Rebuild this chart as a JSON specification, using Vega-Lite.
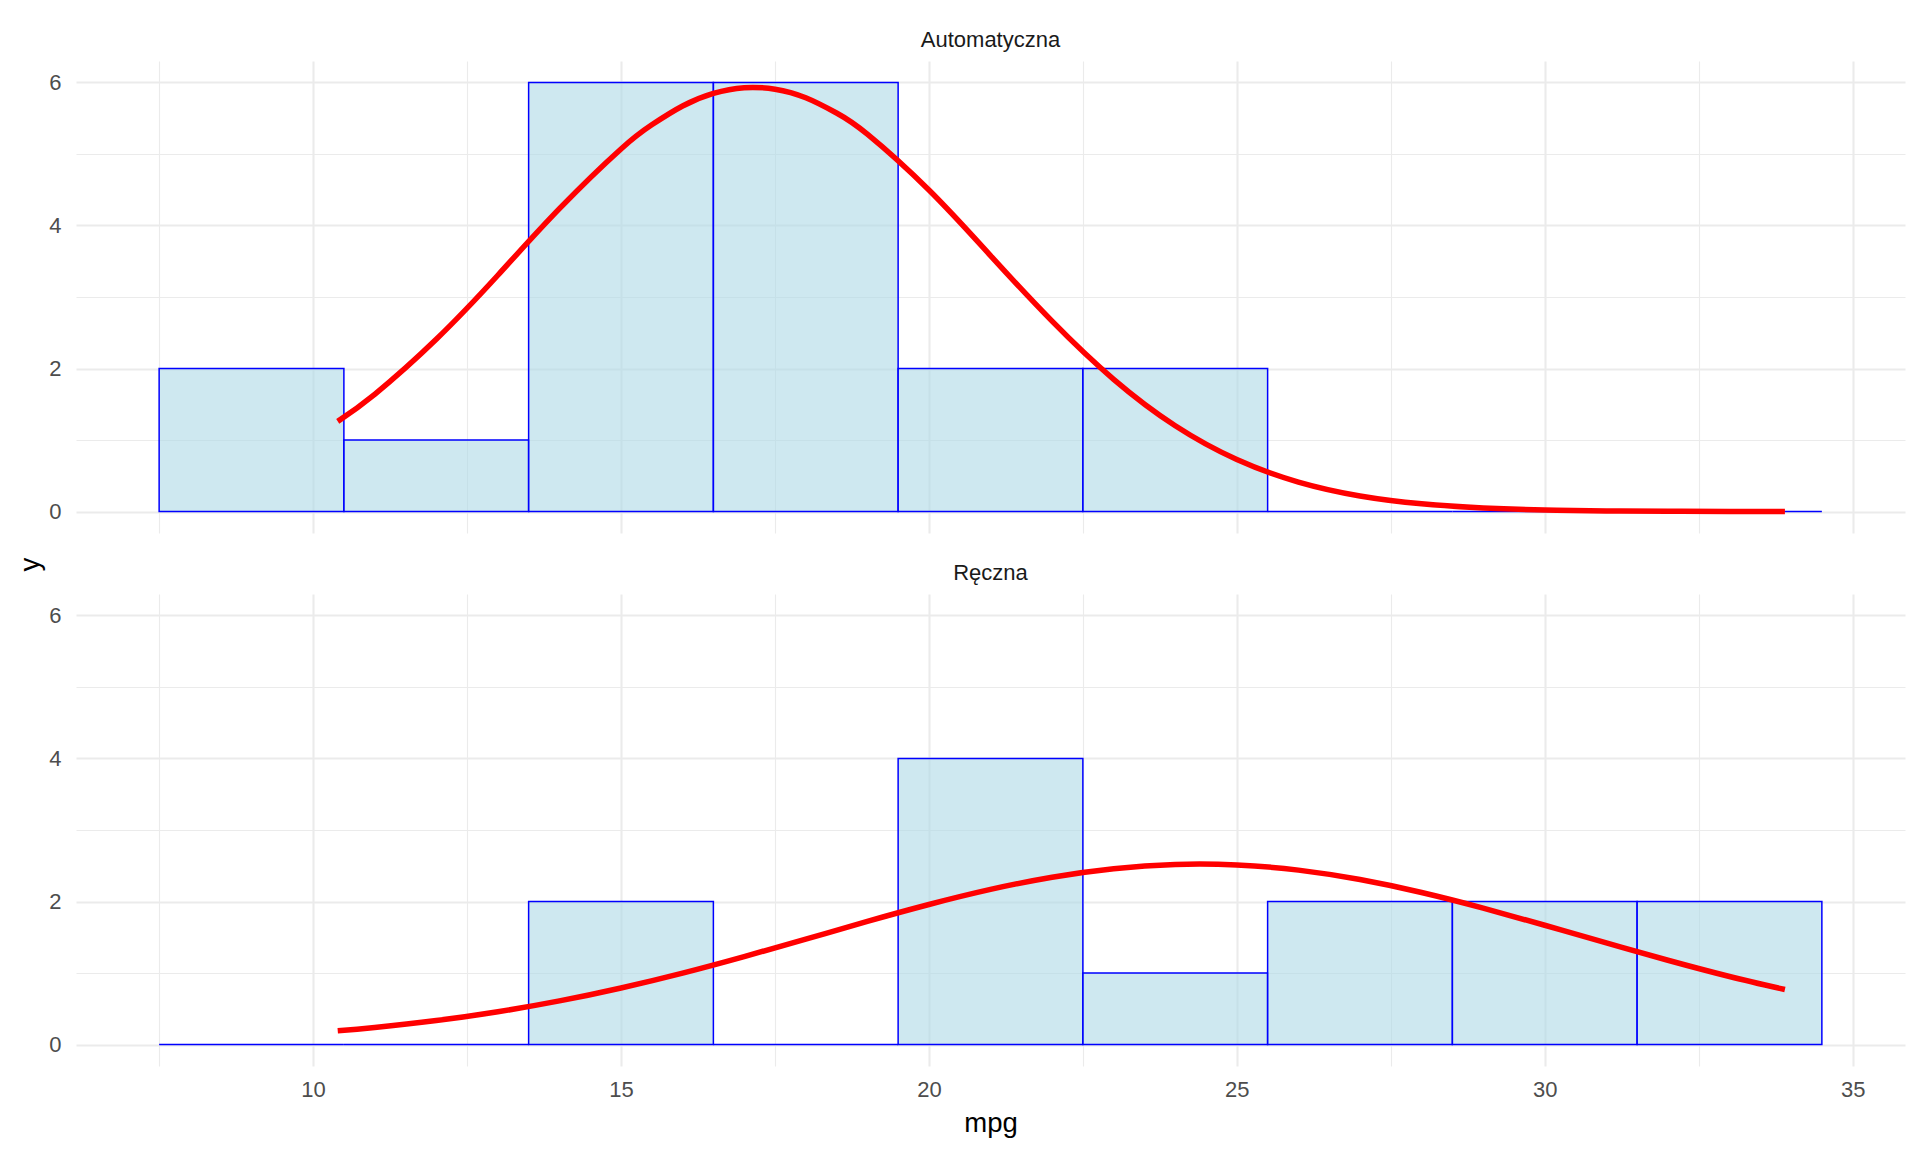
{
  "$schema": "https://vega.github.io/schema/vega-lite/v6.json",
  "background": "white",
  "padding": {"left": 16, "top": 29, "right": 10, "bottom": 10},
  "bounds": "flush",
  "spacing": 61,
  "config": {
    "font": "Liberation Sans",
    "view": {"stroke": null},
    "axis": {
      "domain": false,
      "ticks": false,
      "labelFont": "Liberation Sans",
      "labelFontSize": 22,
      "labelColor": "#4D4D4D",
      "titleFont": "Liberation Sans",
      "titleFontSize": 27.5,
      "titleFontWeight": "normal",
      "titleColor": "#000000",
      "gridColor": "#EBEBEB"
    }
  },
  "datasets": {
    "hist": [
      {"panel": "Automatyczna", "start": 7.5, "end": 10.5, "count": 2},
      {"panel": "Automatyczna", "start": 10.5, "end": 13.5, "count": 1},
      {"panel": "Automatyczna", "start": 13.5, "end": 16.5, "count": 6},
      {"panel": "Automatyczna", "start": 16.5, "end": 19.5, "count": 6},
      {"panel": "Automatyczna", "start": 19.5, "end": 22.5, "count": 2},
      {"panel": "Automatyczna", "start": 22.5, "end": 25.5, "count": 2},
      {"panel": "Automatyczna", "start": 25.5, "end": 28.5, "count": 0},
      {"panel": "Automatyczna", "start": 28.5, "end": 31.5, "count": 0},
      {"panel": "Automatyczna", "start": 31.5, "end": 34.5, "count": 0},
      {"panel": "Ręczna", "start": 7.5, "end": 10.5, "count": 0},
      {"panel": "Ręczna", "start": 10.5, "end": 13.5, "count": 0},
      {"panel": "Ręczna", "start": 13.5, "end": 16.5, "count": 2},
      {"panel": "Ręczna", "start": 16.5, "end": 19.5, "count": 0},
      {"panel": "Ręczna", "start": 19.5, "end": 22.5, "count": 4},
      {"panel": "Ręczna", "start": 22.5, "end": 25.5, "count": 1},
      {"panel": "Ręczna", "start": 25.5, "end": 28.5, "count": 2},
      {"panel": "Ręczna", "start": 28.5, "end": 31.5, "count": 2},
      {"panel": "Ręczna", "start": 31.5, "end": 34.5, "count": 2}
    ],
    "curve": [
      {"panel": "Automatyczna", "x": 10.4, "y": 1.261},
      {"panel": "Automatyczna", "x": 11, "y": 1.640},
      {"panel": "Automatyczna", "x": 12, "y": 2.409},
      {"panel": "Automatyczna", "x": 13, "y": 3.304},
      {"panel": "Automatyczna", "x": 14, "y": 4.235},
      {"panel": "Automatyczna", "x": 15, "y": 5.070},
      {"panel": "Automatyczna", "x": 15.5, "y": 5.408},
      {"panel": "Automatyczna", "x": 16, "y": 5.671},
      {"panel": "Automatyczna", "x": 16.5, "y": 5.847},
      {"panel": "Automatyczna", "x": 17, "y": 5.927},
      {"panel": "Automatyczna", "x": 17.5, "y": 5.906},
      {"panel": "Automatyczna", "x": 18, "y": 5.786},
      {"panel": "Automatyczna", "x": 18.5, "y": 5.573},
      {"panel": "Automatyczna", "x": 19, "y": 5.277},
      {"panel": "Automatyczna", "x": 20, "y": 4.496},
      {"panel": "Automatyczna", "x": 21, "y": 3.579},
      {"panel": "Automatyczna", "x": 22, "y": 2.662},
      {"panel": "Automatyczna", "x": 23, "y": 1.849},
      {"panel": "Automatyczna", "x": 24, "y": 1.200},
      {"panel": "Automatyczna", "x": 25, "y": 0.728},
      {"panel": "Automatyczna", "x": 26, "y": 0.412},
      {"panel": "Automatyczna", "x": 27, "y": 0.218},
      {"panel": "Automatyczna", "x": 28, "y": 0.108},
      {"panel": "Automatyczna", "x": 29, "y": 0.050},
      {"panel": "Automatyczna", "x": 30, "y": 0.0215},
      {"panel": "Automatyczna", "x": 31, "y": 0.0087},
      {"panel": "Automatyczna", "x": 32, "y": 0.0033},
      {"panel": "Automatyczna", "x": 33, "y": 0.0012},
      {"panel": "Automatyczna", "x": 33.9, "y": 0.0004},
      {"panel": "Ręczna", "x": 10.4, "y": 0.192},
      {"panel": "Ręczna", "x": 11, "y": 0.239},
      {"panel": "Ręczna", "x": 12, "y": 0.335},
      {"panel": "Ręczna", "x": 13, "y": 0.458},
      {"panel": "Ręczna", "x": 14, "y": 0.610},
      {"panel": "Ręczna", "x": 15, "y": 0.791},
      {"panel": "Ręczna", "x": 16, "y": 0.999},
      {"panel": "Ręczna", "x": 17, "y": 1.230},
      {"panel": "Ręczna", "x": 18, "y": 1.474},
      {"panel": "Ręczna", "x": 19, "y": 1.722},
      {"panel": "Ręczna", "x": 20, "y": 1.958},
      {"panel": "Ręczna", "x": 21, "y": 2.169},
      {"panel": "Ręczna", "x": 22, "y": 2.340},
      {"panel": "Ręczna", "x": 23, "y": 2.459},
      {"panel": "Ręczna", "x": 24, "y": 2.518},
      {"panel": "Ręczna", "x": 25, "y": 2.511},
      {"panel": "Ręczna", "x": 26, "y": 2.439},
      {"panel": "Ręczna", "x": 27, "y": 2.307},
      {"panel": "Ręczna", "x": 28, "y": 2.126},
      {"panel": "Ręczna", "x": 29, "y": 1.908},
      {"panel": "Ręczna", "x": 30, "y": 1.668},
      {"panel": "Ręczna", "x": 31, "y": 1.421},
      {"panel": "Ręczna", "x": 32, "y": 1.179},
      {"panel": "Ręczna", "x": 33, "y": 0.952},
      {"panel": "Ręczna", "x": 33.9, "y": 0.769}
    ]
  },
  "vconcat": [
    {
      "width": 1829,
      "height": 472,
      "title": {"text": "Automatyczna", "fontSize": 22, "color": "#1A1A1A", "fontWeight": "normal", "font": "Liberation Sans", "anchor": "middle", "baseline": "alphabetic", "frame": "group", "offset": -8},
      "layer": [
        {
          "data": {"name": "hist"},
          "transform": [{"filter": "datum.panel === 'Automatyczna'"}],
          "mark": {"type": "rect", "fill": "#ADD8E6", "fillOpacity": 0.6, "stroke": "#0000FF", "strokeWidth": 1.5},
          "encoding": {
            "x": {"field": "start", "type": "quantitative", "scale": {"domain": [6.15, 35.85], "nice": false, "zero": false},
              "axis": {"values": [7.5, 10, 12.5, 15, 17.5, 20, 22.5, 25, 27.5, 30, 32.5, 35], "labels": false, "title": null,
                "gridWidth": {"condition": {"test": "datum.value % 5 === 0", "value": 2.1}, "value": 1.1}}},
            "x2": {"field": "end"},
            "y": {"field": "count", "type": "quantitative", "scale": {"domain": [-0.3, 6.3], "nice": false, "zero": false},
              "axis": {"values": [0, 1, 2, 3, 4, 5, 6], "format": "d", "labelExpr": "datum.value % 2 === 0 ? datum.label : ''", "labelPadding": 15, "labelBaseline": "middle",
                "gridWidth": {"condition": {"test": "datum.value % 2 === 0", "value": 2.1}, "value": 1.1},
                "title": "y", "titleX": -38, "titleY": 503, "titleBaseline": "alphabetic", "titleAngle": 270}},
            "y2": {"datum": 0}
          }
        },
        {
          "data": {"name": "curve"},
          "transform": [{"filter": "datum.panel === 'Automatyczna'"}],
          "mark": {"type": "line", "color": "#FF0000", "strokeWidth": 5.5, "interpolate": "natural"},
          "encoding": {
            "x": {"field": "x", "type": "quantitative"},
            "y": {"field": "y", "type": "quantitative"}
          }
        }
      ]
    },
    {
      "width": 1829,
      "height": 472,
      "title": {"text": "Ręczna", "fontSize": 22, "color": "#1A1A1A", "fontWeight": "normal", "font": "Liberation Sans", "anchor": "middle", "baseline": "alphabetic", "frame": "group", "offset": -8},
      "layer": [
        {
          "data": {"name": "hist"},
          "transform": [{"filter": "datum.panel === 'Ręczna'"}],
          "mark": {"type": "rect", "fill": "#ADD8E6", "fillOpacity": 0.6, "stroke": "#0000FF", "strokeWidth": 1.5},
          "encoding": {
            "x": {"field": "start", "type": "quantitative", "scale": {"domain": [6.15, 35.85], "nice": false, "zero": false},
              "axis": {"values": [7.5, 10, 12.5, 15, 17.5, 20, 22.5, 25, 27.5, 30, 32.5, 35], "format": "d", "labelExpr": "datum.value % 5 === 0 ? datum.label : ''", "labelPadding": 13,
                "gridWidth": {"condition": {"test": "datum.value % 5 === 0", "value": 2.1}, "value": 1.1},
                "title": "mpg", "titleBaseline": "alphabetic", "titleY": 65}},
            "x2": {"field": "end"},
            "y": {"field": "count", "type": "quantitative", "scale": {"domain": [-0.3, 6.3], "nice": false, "zero": false},
              "axis": {"values": [0, 1, 2, 3, 4, 5, 6], "format": "d", "labelExpr": "datum.value % 2 === 0 ? datum.label : ''", "labelPadding": 15, "labelBaseline": "middle",
                "gridWidth": {"condition": {"test": "datum.value % 2 === 0", "value": 2.1}, "value": 1.1},
                "title": null}},
            "y2": {"datum": 0}
          }
        },
        {
          "data": {"name": "curve"},
          "transform": [{"filter": "datum.panel === 'Ręczna'"}],
          "mark": {"type": "line", "color": "#FF0000", "strokeWidth": 5.5, "interpolate": "natural"},
          "encoding": {
            "x": {"field": "x", "type": "quantitative"},
            "y": {"field": "y", "type": "quantitative"}
          }
        }
      ]
    }
  ]
}
